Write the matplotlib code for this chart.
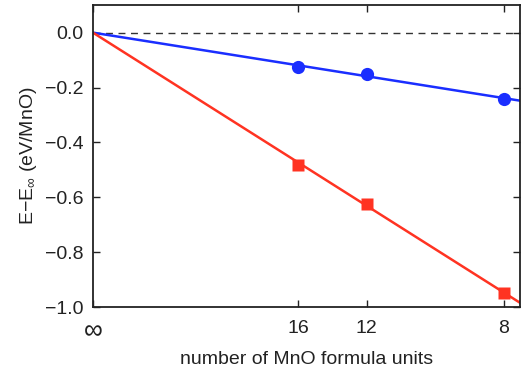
import numpy as np
import matplotlib
matplotlib.use("Agg")
import matplotlib.pyplot as plt

plt.rcParams['font.family'] = ['Liberation Sans', 'DejaVu Sans']
plt.rcParams['mathtext.fontset'] = 'custom'
plt.rcParams['mathtext.rm'] = 'Liberation Sans'
plt.rcParams['mathtext.it'] = 'Liberation Sans'

n_units = [16, 12, 8]
tick_labels = ['\u221e', '16', '12', '8']
blue_vals = [-0.126, -0.150, -0.241]
red_vals = [-0.481, -0.623, -0.948]

x = 1.0 / np.array(n_units, dtype=float)
blue = np.array(blue_vals)
red = np.array(red_vals)
# least-squares lines through origin
kb = np.sum(x * blue) / np.sum(x * x)
kr = np.sum(x * red) / np.sum(x * x)

fig = plt.figure(figsize=(5.28, 3.70), dpi=100)
ax = fig.add_axes([0.176, 0.170, 0.809, 0.816])

xl = np.array([0, 0.13])
ax.axhline(0, color='#333333', lw=1.0, ls=(0, (5, 4)), zorder=1)
ax.plot(xl, kb * xl, color='#1a2eff', lw=1.8, zorder=2)
ax.plot(xl, kr * xl, color='#ff3322', lw=1.8, zorder=2)
ax.plot(x, blue, 'o', color='#1a2eff', ms=9.5, mec='none', zorder=3)
ax.plot(x, red, 's', color='#ff3322', ms=9, mec='none', zorder=3)

ax.set_xlim(0, 0.13)
ax.set_ylim(-1.0, 0.1)
ax.set_xticks([0] + list(x))
ax.set_xticklabels(tick_labels)
ax.set_yticks([0.0, -0.2, -0.4, -0.6, -0.8, -1.0])
ax.set_yticklabels(['0.0', '\u22120.2', '\u22120.4', '\u22120.6', '\u22120.8', '\u22121.0'])
ax.tick_params(direction='in', top=True, right=True, length=5, width=1,
               labelsize=14, colors='#222222')
ax.tick_params(axis='x', pad=9)
ax.tick_params(axis='y', pad=7)
ax.get_xticklabels()[0].set_fontsize(19)
for s in ax.spines.values():
    s.set_linewidth(1.3)
    s.set_color('#222222')
ax.set_xlabel('number of MnO formula units', fontsize=14, color='#222222', labelpad=5)
ax.set_ylabel('E\u2212E$_{\\infty}$ (eV/MnO)', fontsize=14, color='#222222', labelpad=4)

fig.savefig('out.png', dpi=100)
